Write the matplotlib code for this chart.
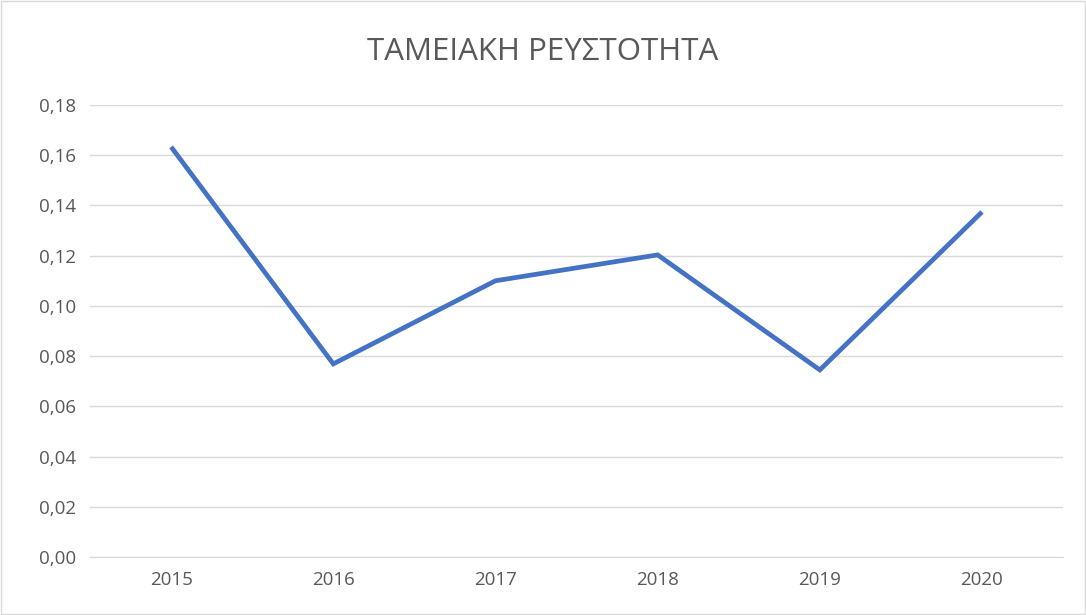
import matplotlib
matplotlib.use("Agg")
import matplotlib.pyplot as plt
from matplotlib.ticker import FuncFormatter

plt.rcParams['font.family'] = ['Open Sans', 'DejaVu Sans']

# data
years = ['2015', '2016', '2017', '2018', '2019', '2020']
liquidity = [0.1633, 0.0769, 0.1100, 0.1203, 0.0745, 0.1374]
title = 'ΤΑΜΕΙΑΚΗ ΡΕΥΣΤΟΤΗΤΑ'

fig = plt.figure(figsize=(10.86, 6.15), dpi=100)
fig.patches.append(plt.Rectangle((0.001, 0.001), 0.998, 0.997, transform=fig.transFigure,
                                 fill=False, edgecolor='#D9D9D9', lw=1))
ax = fig.add_axes([0.0829, 0.0943, 0.896, 0.7350])

x = range(len(years))
ax.plot(x, liquidity, color='#4472C4', lw=3.4, solid_joinstyle='miter', solid_capstyle='butt')

ax.set_xlim(-0.5, len(years) - 0.5)
ax.set_ylim(0, 0.18)
ax.set_yticks([i * 0.02 for i in range(10)])
ax.yaxis.set_major_formatter(FuncFormatter(lambda v, p: f'{v:.2f}'.replace('.', ',')))
ax.set_xticks(list(x))
ax.set_xticklabels(years)

ax.grid(axis='y', color='#D9D9D9', lw=1)
ax.set_axisbelow(True)
for s in ['top', 'right', 'left']:
    ax.spines[s].set_visible(False)
ax.spines['bottom'].set_color('#D9D9D9')
ax.tick_params(length=0, labelsize=13.5, colors='#595959', pad=10)
ax.tick_params(axis='y', pad=10)

fig.text(0.5, 0.915, title, ha='center', va='center', fontsize=22.5, color='#595959')

fig.savefig('out.png', dpi=100)
